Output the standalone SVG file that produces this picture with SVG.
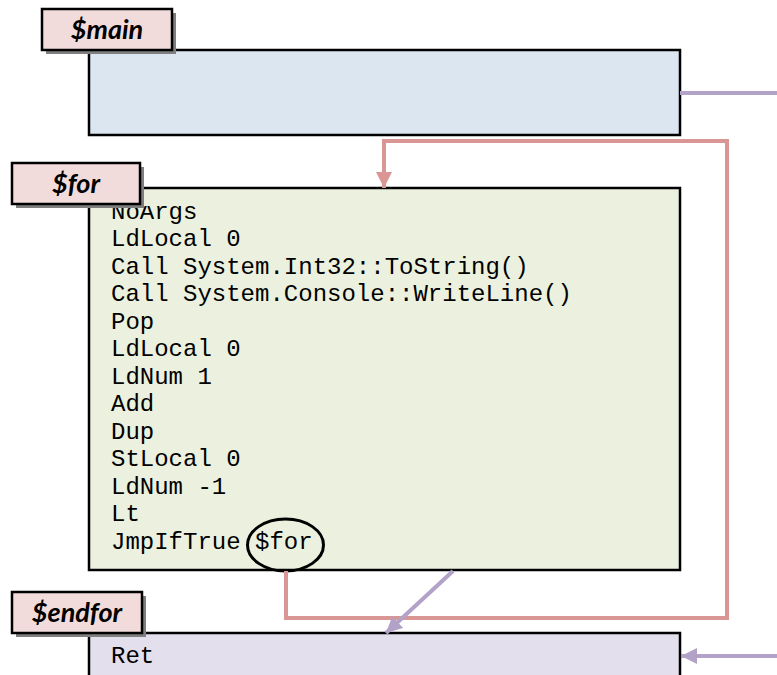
<svg xmlns="http://www.w3.org/2000/svg" width="777" height="675" viewBox="0 0 777 675">
  <style>
    .box { stroke: #000; stroke-width: 2.5; }
    .tag { fill: #f2dcdb; stroke: #000; stroke-width: 2.5; }
    .shadow { fill: #7f7f7f; }
    .tagtxt { font-family: Lato, "Liberation Sans", sans-serif; font-weight: bold; font-style: italic; font-size: 27px; fill: #000; text-anchor: middle; }
    .code { font-family: "Liberation Mono", "DejaVu Sans Mono", monospace; font-size: 24px; fill: #000; }
    .loop { fill: none; stroke: #d99694; stroke-width: 4; }
    .flow { fill: none; stroke: #b3a2c7; stroke-width: 4; }
  </style>
  <defs>
    <marker id="redHead" markerWidth="4" markerHeight="4" refX="4" refY="2" orient="auto" markerUnits="strokeWidth">
      <path d="M0,0 L4,2 L0,4 Z" fill="#d99694"/>
    </marker>
    <marker id="purpleHead" markerWidth="4" markerHeight="4" refX="4" refY="2" orient="auto" markerUnits="strokeWidth">
      <path d="M0,0 L4,2 L0,4 Z" fill="#b3a2c7"/>
    </marker>
    <clipPath id="forClip">
      <rect x="89" y="206" width="591" height="364"/>
    </clipPath>
  </defs>

  <rect width="777" height="675" fill="#fff"/>

  <!-- block $main -->
  <g id="main">
    <rect class="box" x="89" y="50" width="591" height="85" fill="#dce6f1"/>
    <rect class="shadow" x="46" y="13" width="130" height="41"/>
    <rect class="tag" x="42" y="9" width="130" height="41"/>
    <text class="tagtxt" x="107" y="39">$main</text>
  </g>

  <!-- block $for -->
  <g id="for">
    <rect class="box" x="89" y="188" width="591" height="382" fill="#ebf1de"/>
    <g clip-path="url(#forClip)">
      <text class="code" x="111" y="218.5">NoArgs</text>
      <text class="code" x="111" y="246">LdLocal 0</text>
      <text class="code" x="111" y="273.5">Call System.Int32::ToString()</text>
      <text class="code" x="111" y="301">Call System.Console::WriteLine()</text>
      <text class="code" x="111" y="328.5">Pop</text>
      <text class="code" x="111" y="356">LdLocal 0</text>
      <text class="code" x="111" y="383.5">LdNum 1</text>
      <text class="code" x="111" y="411">Add</text>
      <text class="code" x="111" y="438.5">Dup</text>
      <text class="code" x="111" y="466">StLocal 0</text>
      <text class="code" x="111" y="493.5">LdNum -1</text>
      <text class="code" x="111" y="521">Lt</text>
      <text class="code" x="111" y="548.5">JmpIfTrue $for</text>
    </g>
    <ellipse cx="285.5" cy="545" rx="38" ry="26" fill="none" stroke="#000" stroke-width="3"/>
    <rect class="shadow" x="16" y="167" width="128" height="41"/>
    <rect class="tag" x="12" y="163" width="128" height="41"/>
    <text class="tagtxt" x="76" y="193">$for</text>
  </g>

  <!-- block $endfor -->
  <g id="endfor">
    <rect class="box" x="89" y="633" width="591" height="60" fill="#e4dfec"/>
    <text class="code" x="111" y="663">Ret</text>
    <rect class="shadow" x="16" y="596" width="130" height="41"/>
    <rect class="tag" x="12" y="592" width="130" height="41"/>
    <text class="tagtxt" x="77" y="622">$endfor</text>
  </g>

  <!-- connectors -->
  <g id="connectors">
    <path class="loop" d="M286,571 V618 H727 V141 H384 V188" marker-end="url(#redHead)"/>
    <path class="flow" d="M680,93 H777"/>
    <path class="flow" d="M453,571 L386,633" marker-end="url(#purpleHead)"/>
    <path class="flow" d="M777,656 H681" marker-end="url(#purpleHead)"/>
  </g>
</svg>
